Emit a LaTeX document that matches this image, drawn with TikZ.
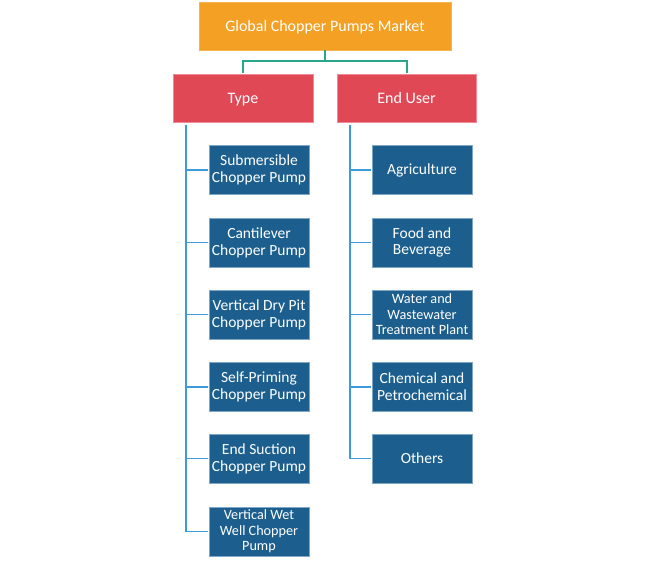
\documentclass[tikz,border=0pt]{standalone}
\usepackage{fontspec}
\setmainfont{Carlito}
\definecolor{orangebox}{HTML}{F4A024}
\definecolor{redbox}{HTML}{E04855}
\definecolor{bluebox}{HTML}{1C5F8E}
\definecolor{blueedge}{HTML}{7FA6C4}
\definecolor{rededge}{HTML}{EE8A93}
\definecolor{tealline}{HTML}{2BA58C}
\definecolor{blueline}{HTML}{3E9BDB}
\tikzset{
  rootbox/.style={fill=orangebox, draw=orangebox!80!white, line width=0.5pt, minimum width=252pt, minimum height=48pt, text=white, font=\fontsize{16}{18}\selectfont, inner sep=0pt, text height=13.8pt, text depth=3.5pt},
  catbox/.style={fill=redbox, draw=rededge, line width=0.5pt, minimum width=140pt, minimum height=48pt, text=white, font=\fontsize{16}{18}\selectfont, inner sep=0pt, text height=13.8pt, text depth=3.5pt},
  leafbox/.style={fill=bluebox, draw=blueedge, line width=0.5pt, minimum width=100pt, minimum height=49pt, text=white, align=center, font=\fontsize{15.5}{16.8}\selectfont, inner sep=0pt},
  leafthree/.style={leafbox, font=\fontsize{14.2}{15.5}\selectfont},
  teal/.style={draw=tealline, line width=1.3pt},
  bline/.style={draw=blueline, line width=1.2pt}
}
\begin{document}
\begin{tikzpicture}[x=1pt,y=-1pt]
\useasboundingbox (0,0) rectangle (650,567);
\node[rootbox] (root) at (325,26) {Global Chopper Pumps Market};
\node[catbox] (type) at (243,98) {Type};
\node[catbox, minimum width=139pt] (user) at (406.5,98) {End User};

\node[leafbox] (t1) at (259,170) {Submersible\\Chopper Pump};
\node[leafbox] (t2) at (259,242.5) {Cantilever\\Chopper Pump};
\node[leafbox] (t3) at (259,314.5) {Vertical Dry Pit\\Chopper Pump};
\node[leafbox] (t4) at (259,387) {Self-Priming\\Chopper Pump};
\node[leafbox] (t5) at (259,458.5) {End Suction\\Chopper Pump};
\node[leafthree] (t6) at (259,531.5) {Vertical Wet\\Well Chopper\\Pump};

\node[leafbox] (u1) at (422,170) {Agriculture};
\node[leafbox] (u2) at (422,242.5) {Food and\\Beverage};
\node[leafthree] (u3) at (422,314.5) {Water and\\Wastewater\\Treatment Plant};
\node[leafbox] (u4) at (422,387) {Chemical and\\Petrochemical};
\node[leafbox] (u5) at (422,458.5) {Others};

\coordinate (mid) at (325,61);
\coordinate (tl) at (243,72.5);
\coordinate (ul) at (407,72.5);
\draw[teal] (root.south) -- (mid);
\draw[teal, line cap=rect] (tl) -- (243,61) -- (407,61) -- (ul);

\coordinate (ttop) at (186,125);
\coordinate (utop) at (350,125);
\foreach \n in {t1,t2,t3,t4,t5,t6}
  \draw[bline] (ttop) |- ([xshift=-1pt]\n.west);
\foreach \n in {u1,u2,u3,u4,u5}
  \draw[bline] (utop) |- ([xshift=-1pt]\n.west);
\end{tikzpicture}
\end{document}
